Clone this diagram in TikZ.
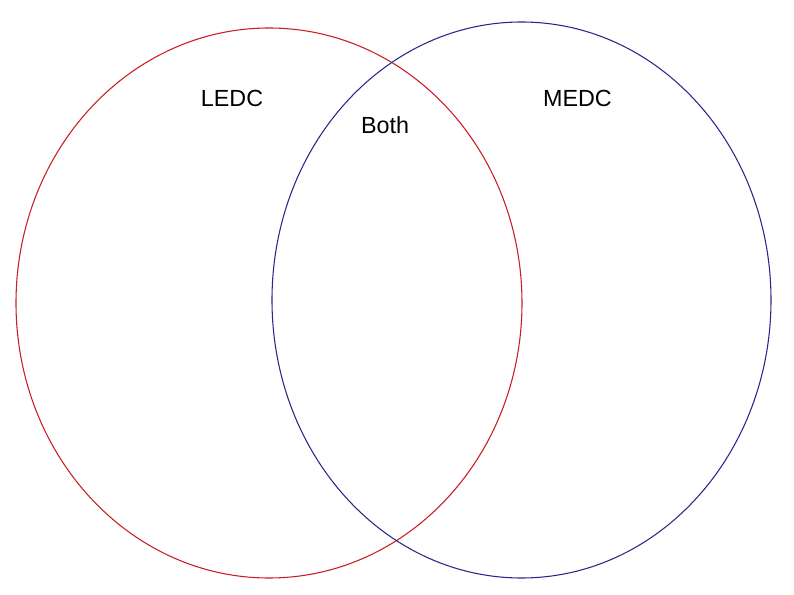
\documentclass[tikz,border=0pt]{standalone}
\usepackage{fontspec}
\setmainfont{Liberation Sans}
\definecolor{vred}{RGB}{200,30,35}
\definecolor{vblue}{RGB}{40,40,140}
\begin{document}
\begin{tikzpicture}[x=0.75pt,y=-0.75pt,
  setline/.style={line width=0.8pt},
  lbl/.style={font=\fontsize{17.5pt}{20pt}\selectfont, inner sep=0pt, anchor=center}]
\useasboundingbox (0,0) rectangle (794,595);
\fill[white] (0,0) rectangle (794,595);
\draw[setline, vred] (269,303) ellipse [x radius=253, y radius=275];
\draw[setline, vblue] (521.5,300) ellipse [x radius=249.5, y radius=278];
\node[lbl] (ledc) at (232,98) {LEDC};
\node[lbl] (medc) at (577.5,98) {MEDC};
\node[lbl] (both) at (385,125.5) {Both};
\end{tikzpicture}
\end{document}
